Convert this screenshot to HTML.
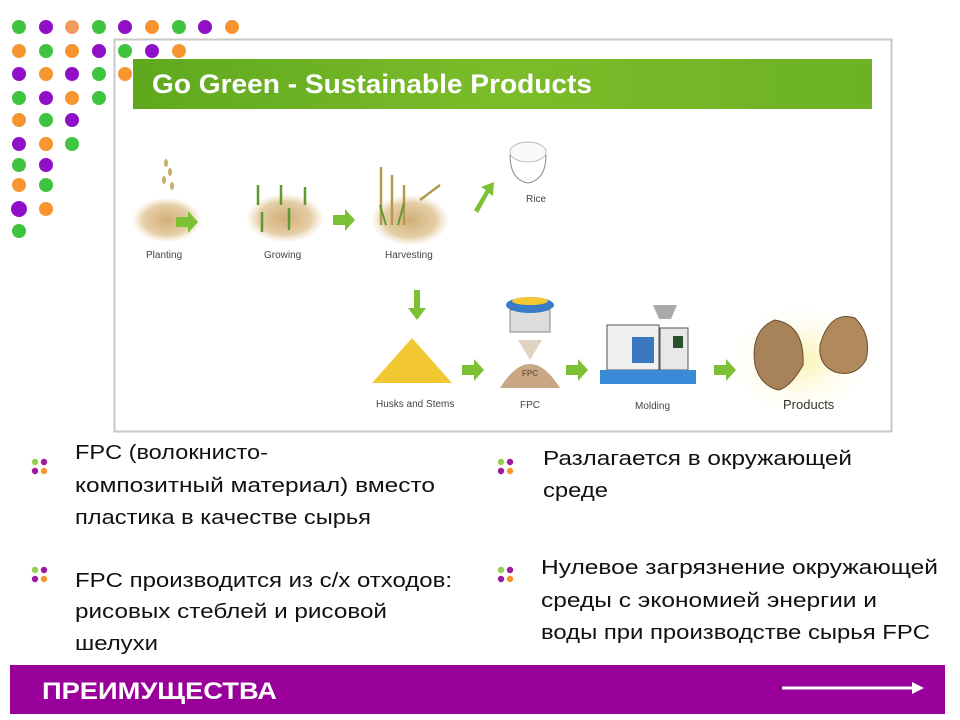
<!DOCTYPE html>
<html><head><meta charset="utf-8"><style>
html,body{margin:0;padding:0;background:#fff}
svg{display:block}
</style></head><body>
<svg width="960" height="720" viewBox="0 0 960 720" xmlns="http://www.w3.org/2000/svg" font-family="'Liberation Sans', sans-serif">
<defs>
<linearGradient id="gb" x1="0" y1="0" x2="1" y2="0">
<stop offset="0" stop-color="#5fa81e"/><stop offset="0.5" stop-color="#7cbc2a"/><stop offset="1" stop-color="#6cb224"/>
</linearGradient>
<radialGradient id="soil" cx="0.5" cy="0.5" r="0.5"><stop offset="0" stop-color="#d2ae78"/><stop offset="0.7" stop-color="#e6cfa8"/><stop offset="1" stop-color="#f3e6d2" stop-opacity="0.2"/></radialGradient>
<radialGradient id="glow" cx="0.5" cy="0.5" r="0.5"><stop offset="0" stop-color="#fbf3b0"/><stop offset="1" stop-color="#fffbe6" stop-opacity="0"/></radialGradient>
<g id="ar"><path d="M0,-5 H12 V-11 L22,0 L12,11 V5 H0 Z" fill="#7cc133"/></g>
</defs>

<!-- frame -->
<rect x="114.5" y="39.5" width="777" height="392" fill="#fff" stroke="#c8c8c8" stroke-width="2"/>
<rect x="133" y="59" width="739" height="50" fill="url(#gb)"/>
<text x="152" y="86" font-size="27" fill="#fff" font-weight="bold" textLength="440" lengthAdjust="spacingAndGlyphs" dominant-baseline="middle">Go Green - Sustainable Products</text>

<!-- top row -->
<ellipse cx="167" cy="220" rx="34" ry="22" fill="url(#soil)"/>
<g fill="#c9b06a"><ellipse cx="166" cy="163" rx="2" ry="4"/><ellipse cx="170" cy="172" rx="2" ry="4"/><ellipse cx="164" cy="180" rx="2" ry="4"/><ellipse cx="172" cy="186" rx="2" ry="4"/></g>
<use href="#ar" x="176" y="222"/>
<text x="146" y="258" font-size="10" fill="#444">Planting</text>
<ellipse cx="285" cy="218" rx="38" ry="24" fill="url(#soil)"/>
<g stroke="#5f9a30" stroke-width="2.5"><path d="M258,205 v-20 M281,205 v-20 M305,205 v-18 M262,232 v-20 M289,230 v-22"/></g>
<use href="#ar" x="333" y="220"/>
<text x="264" y="258" font-size="10" fill="#444">Growing</text>
<ellipse cx="410" cy="220" rx="38" ry="25" fill="url(#soil)"/>
<g stroke="#b39a4f" stroke-width="2.5"><path d="M381,225 v-58 M392,225 v-50 M404,225 v-40 M420,200 l20,-15"/></g>
<g stroke="#5f9a30" stroke-width="2"><path d="M386,225 l-6,-20 M398,225 l6,-22"/></g>
<text x="385" y="258" font-size="10" fill="#444">Harvesting</text>
<path d="M474,210 L486,190 L481,187 L494,182 L493,196 L489,193 L478,213 Z" fill="#7cc133"/>
<path d="M510,155 Q510,180 528,183 Q546,180 546,155 Z" fill="#fff" stroke="#888"/>
<ellipse cx="528" cy="152" rx="18" ry="10" fill="#fafafa" stroke="#bbb"/>
<text x="526" y="202" font-size="10" fill="#444">Rice</text>

<!-- bottom row -->
<path d="M414,290 v18 h-6 l9,12 l9,-12 h-6 v-18 z" fill="#7cc133"/>
<path d="M372,383 L412,338 L452,383 Z" fill="#f2c832"/>
<use href="#ar" x="462" y="370"/>
<text x="376" y="407" font-size="10" fill="#444">Husks and Stems</text>
<path d="M500,388 Q530,340 560,388 Z" fill="#c9a785"/>
<path d="M518,340 L542,340 L530,360 Z" fill="#e0d2c0"/>
<rect x="510" y="310" width="40" height="22" fill="#ddd" stroke="#888"/>
<ellipse cx="530" cy="305" rx="24" ry="8" fill="#3a7bc8"/>
<ellipse cx="530" cy="301" rx="18" ry="4" fill="#f3c832"/>
<text x="522" y="376" font-size="8" fill="#7a5a40" font-weight="bold">FPC</text>
<text x="520" y="408" font-size="10" fill="#444">FPC</text>
<use href="#ar" x="566" y="370"/>
<rect x="607" y="325" width="52" height="45" fill="#f0f0f0" stroke="#555"/>
<rect x="632" y="337" width="22" height="26" fill="#3a78c0"/>
<rect x="660" y="328" width="28" height="42" fill="#e8e8e8" stroke="#555"/>
<rect x="673" y="336" width="10" height="12" fill="#2c4f2c"/>
<rect x="600" y="370" width="96" height="14" fill="#3a8ad8"/>
<path d="M653,305 h24 l-6,14 h-12 z" fill="#aaa"/>
<text x="635" y="409" font-size="10" fill="#444">Molding</text>
<ellipse cx="800" cy="360" rx="70" ry="55" fill="url(#glow)"/>
<use href="#ar" x="714" y="370"/>
<path d="M755,365 Q750,330 775,320 Q805,325 803,365 Q790,388 778,390 Q760,385 755,365 Z" fill="#a8825a" stroke="#6a4c30"/>
<path d="M820,345 Q830,310 855,318 Q872,335 866,360 Q855,378 835,372 Q818,365 820,345 Z" fill="#b08a5c" stroke="#6a4c30"/>
<text x="783" y="409" font-size="13" fill="#333">Products</text>

<!-- dots -->
<g>
<circle cx="19" cy="27" r="7" fill="#3ec43e"/><circle cx="46" cy="27" r="7" fill="#9010c8"/><circle cx="72" cy="27" r="7" fill="#f49a60"/><circle cx="99" cy="27" r="7" fill="#3ec43e"/><circle cx="125" cy="27" r="7" fill="#9010c8"/><circle cx="152" cy="27" r="7" fill="#f7962e"/><circle cx="179" cy="27" r="7" fill="#3ec43e"/><circle cx="205" cy="27" r="7" fill="#9010c8"/><circle cx="232" cy="27" r="7" fill="#f7962e"/>
<circle cx="19" cy="51" r="7" fill="#f7962e"/><circle cx="46" cy="51" r="7" fill="#3ec43e"/><circle cx="72" cy="51" r="7" fill="#f7962e"/><circle cx="99" cy="51" r="7" fill="#9010c8"/><circle cx="125" cy="51" r="7" fill="#3ec43e"/><circle cx="152" cy="51" r="7" fill="#9010c8"/><circle cx="179" cy="51" r="7" fill="#f7962e"/>
<circle cx="19" cy="74" r="7" fill="#9010c8"/><circle cx="46" cy="74" r="7" fill="#f7962e"/><circle cx="72" cy="74" r="7" fill="#9010c8"/><circle cx="99" cy="74" r="7" fill="#3ec43e"/><circle cx="125" cy="74" r="7" fill="#f7962e"/>
<circle cx="19" cy="98" r="7" fill="#3ec43e"/><circle cx="46" cy="98" r="7" fill="#9010c8"/><circle cx="72" cy="98" r="7" fill="#f7962e"/><circle cx="99" cy="98" r="7" fill="#3ec43e"/>
<circle cx="19" cy="120" r="7" fill="#f7962e"/><circle cx="46" cy="120" r="7" fill="#3ec43e"/><circle cx="72" cy="120" r="7" fill="#9010c8"/>
<circle cx="19" cy="144" r="7" fill="#9010c8"/><circle cx="46" cy="144" r="7" fill="#f7962e"/><circle cx="72" cy="144" r="7" fill="#3ec43e"/>
<circle cx="19" cy="165" r="7" fill="#3ec43e"/><circle cx="46" cy="165" r="7" fill="#9010c8"/>
<circle cx="19" cy="185" r="7" fill="#f7962e"/><circle cx="46" cy="185" r="7" fill="#3ec43e"/>
<circle cx="19" cy="209" r="8" fill="#9010c8"/><circle cx="46" cy="209" r="7" fill="#f7962e"/>
<circle cx="19" cy="231" r="7" fill="#3ec43e"/>
</g>

<!-- bullets -->
<g id="b1"><circle cx="35" cy="462" r="3.2" fill="#92d050"/><circle cx="44" cy="462" r="3.2" fill="#9b1aa0"/><circle cx="35" cy="471" r="3.2" fill="#9b1aa0"/><circle cx="44" cy="471" r="3.2" fill="#f7962e"/></g>
<use href="#b1" x="466" y="0"/>
<use href="#b1" x="0" y="108"/>
<use href="#b1" x="466" y="108"/>

<g font-family="'Liberation Sans', sans-serif" font-size="20" fill="#111">
<text x="75" y="459" textLength="193" lengthAdjust="spacingAndGlyphs">FPC (волокнисто-</text>
<text x="75" y="492" textLength="360" lengthAdjust="spacingAndGlyphs">композитный материал) вместо</text>
<text x="75" y="524" textLength="296" lengthAdjust="spacingAndGlyphs">пластика в качестве сырья</text>
<text x="75" y="587" textLength="377" lengthAdjust="spacingAndGlyphs">FPC производится из с/х отходов:</text>
<text x="75" y="618" textLength="312" lengthAdjust="spacingAndGlyphs">рисовых стеблей и рисовой</text>
<text x="75" y="650" textLength="83" lengthAdjust="spacingAndGlyphs">шелухи</text>
<text x="543" y="465" textLength="309" lengthAdjust="spacingAndGlyphs">Разлагается в окружающей</text>
<text x="543" y="497" textLength="65" lengthAdjust="spacingAndGlyphs">среде</text>
<text x="541" y="574" textLength="397" lengthAdjust="spacingAndGlyphs">Нулевое загрязнение окружающей</text>
<text x="541" y="607" textLength="336" lengthAdjust="spacingAndGlyphs">среды с экономией энергии и</text>
<text x="541" y="639" textLength="389" lengthAdjust="spacingAndGlyphs">воды при производстве сырья FPC</text>
</g>

<!-- bottom bar -->
<rect x="10" y="665" width="935" height="49" fill="#990099"/>
<text x="42" y="699" font-size="24" font-weight="bold" fill="#fff" textLength="235" lengthAdjust="spacingAndGlyphs">ПРЕИМУЩЕСТВА</text>
<path d="M782,688 H912" stroke="#fff" stroke-width="3"/>
<path d="M912,682 L924,688 L912,694 Z" fill="#fff"/>
</svg>
</body></html>
